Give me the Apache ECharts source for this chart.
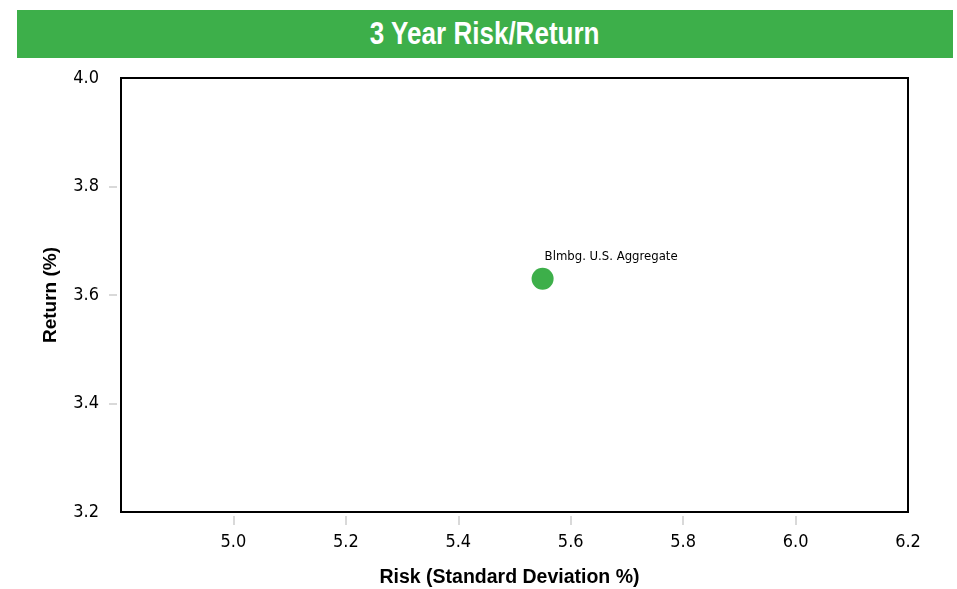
<!DOCTYPE html>
<html>
<head>
<meta charset="utf-8">
<script src="https://cdn.jsdelivr.net/npm/echarts@6/dist/echarts.min.js"></script>
<style>
html,body{margin:0;padding:0;background:#fff;}
#title{position:absolute;left:17px;top:10px;width:936px;height:48px;background:#3daf4a;color:#fff;text-align:center;}
#title span{display:inline-block;font-family:"Liberation Sans",Arial,sans-serif;font-weight:bold;font-size:31px;line-height:48px;transform:scaleX(0.84);transform-origin:center;}
#chart{position:absolute;left:0;top:0;width:957px;height:589px;}
</style>
</head>
<body>
<div id="chart"></div>
<div id="title"><span>3 Year Risk/Return</span></div>
<script>
const names = ["Blmbg. U.S. Aggregate"];
const risk = [5.55];
const ret = [3.63];
const xTicks = [5.0, 5.2, 5.4, 5.6, 5.8, 6.0];
const yTicks = [3.4, 3.6, 3.8];

const COND = '"DejaVu Sans Condensed","Liberation Sans Narrow","Liberation Sans",sans-serif';
const SANS = '"Liberation Sans",Arial,sans-serif';
const chart = echarts.init(document.getElementById('chart'), null, {renderer: 'canvas'});
chart.setOption({
  animation: false,
  grid: {left: 121, top: 78, right: 49, bottom: 77, containLabel: false, outerBoundsMode: 'none',
    show: true, borderColor: '#000', borderWidth: 2, backgroundColor: 'transparent'},
  xAxis: {
    type: 'value', min: 4.8, max: 6.2, interval: 0.2, offset: 4,
    name: 'Risk (Standard Deviation %)', nameLocation: 'middle', nameGap: 52,
    nameTextStyle: {fontFamily: SANS, fontWeight: 'bold', fontSize: 19.5, color: '#000', padding: [0, 10, 0, 0]},
    axisLine: {show: false},
    axisTick: {show: true, length: 9, lineStyle: {color: '#d9d9d9', width: 2}, customValues: xTicks},
    axisLabel: {fontFamily: COND, fontSize: 18, color: '#000', margin: 17, showMinLabel: false,
      formatter: v => v.toFixed(1)},
    splitLine: {show: false}
  },
  yAxis: {
    type: 'value', min: 3.2, max: 4.0, interval: 0.2, offset: 4,
    name: 'Return (%)', nameLocation: 'middle', nameGap: 57, nameRotate: 90,
    nameTextStyle: {fontFamily: SANS, fontWeight: 'bold', fontSize: 19, color: '#000'},
    axisLine: {show: false},
    axisTick: {show: true, length: 8, lineStyle: {color: '#d9d9d9', width: 2}, customValues: yTicks},
    axisLabel: {fontFamily: COND, fontSize: 18, color: '#000', margin: 18,
      formatter: v => v.toFixed(1)},
    splitLine: {show: false}
  },
  series: [{
    type: 'scatter',
    symbol: 'circle',
    symbolSize: 22,
    itemStyle: {color: '#3daf4a', opacity: 1},
    emphasis: {disabled: true},
    data: names.map((n, i) => ({name: n, value: [risk[i], ret[i]]})),
    label: {
      show: true, formatter: p => p.name, position: [13, -11], align: 'left', verticalAlign: 'middle',
      fontFamily: COND, fontSize: 13, color: '#000'
    }
  }]
});
</script>
</body>
</html>
